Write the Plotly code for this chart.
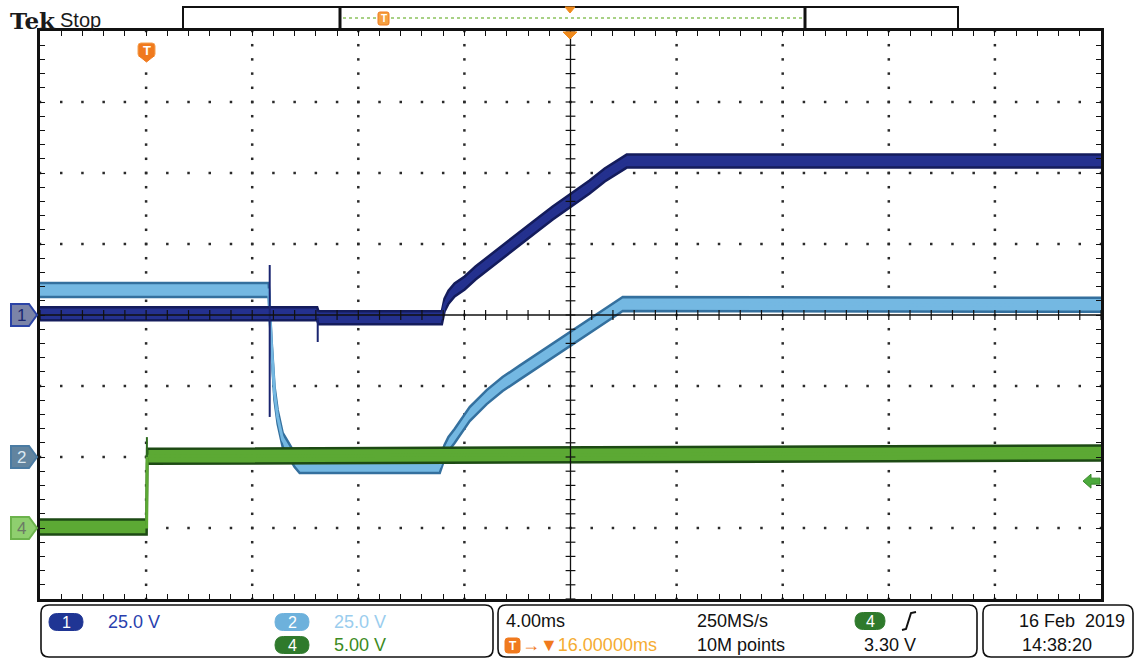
import numpy as np
import plotly.graph_objects as go

# ---------------- acquisition data (time in ms relative to trigger, values in volts) ----
ch1_t = [-4.0, 4.60, 4.70, 6.45, 6.50, 11.15, 11.25, 11.40, 11.63, 12.01, 12.42, 12.84,
         13.33, 14.08, 14.84, 15.33, 16.04, 16.72, 17.29, 17.85, 18.12, 36.0]
ch1_v = [0.4, 0.4, 0.4, 0.4, -1.0, -1.0, 3.5, 6.3, 8.8, 11.3, 14.8, 17.9,
         21.5, 27.1, 32.4, 35.9, 40.5, 45.1, 49.3, 52.8, 54.2, 54.2]
ch1_glitch_t = [4.66, 4.66, None, 6.47, 6.47]
ch1_glitch_v = [17.6, -35.9, None, -1.0, -9.5]

ch2_t = [-4.0, 4.62, 4.73, 4.76, 4.84, 4.96, 5.15, 5.33, 5.60, 5.79, 11.07, 11.25,
         11.40, 11.63, 12.20, 12.84, 13.44, 14.08, 14.72, 15.40, 16.04, 16.84, 17.59,
         17.97, 36.0]
ch2_v = [58.8, 58.8, 38.7, 34.2, 22.5, 14.1, 6.0, 3.2, -1.1, -3.2, -3.2, 1.8,
         4.6, 7.4, 15.1, 21.1, 25.7, 29.7, 33.7, 37.9, 41.9, 46.8, 51.5,
         53.9, 53.6]

ch4_t = [-4.0, 0.02, 0.04, 36.0]
ch4_v = [0.07, 0.07, 5.05, 5.28]
ch4_glitch_t = [0.03, 0.03]
ch4_glitch_v = [5.0, 6.4]

# vertical settings: volts/div and marker position (div)
ch1_scale, ch1_pos = 25.0, 0.0
ch2_scale, ch2_pos = 25.0, -2.0
ch4_scale, ch4_pos = 5.0, -3.0
trig_level = 3.30

# horizontal settings
time_div = 4.0
t_start, t_end = -4.0, 36.0
trig_delay = 16.0

# readout texts
ch_labels = ["25.0 V", "25.0 V", "5.00 V"]
rate_text = "250MS/s"
points_text = "10M points"
date_text = "16 Feb  2019"
clock_text = "14:38:20"

# ---------------- page geometry ----------------
W, H = 1138, 659
ML, MR, MT, MB = 40, 37, 31, 60
PW, PH = W - ML - MR, H - MT - MB
DIV_PX = PH / 8.0
FONT = "Liberation Sans, Arial, sans-serif"


def fx(px):
    return (px - ML) / PW


def fy(py):
    return (H - MB - py) / PH


def ppath(points, close=True):
    s = "M " + " L ".join(f"{fx(x):.5f},{fy(y):.5f}" for x, y in points)
    return s + (" Z" if close else "")


def rrect(x0, y0, x1, y1, r):
    def p(x, y):
        return f"{fx(x):.5f},{fy(y):.5f}"
    return (f"M {p(x0 + r, y0)} L {p(x1 - r, y0)} Q {p(x1, y0)} {p(x1, y0 + r)} "
            f"L {p(x1, y1 - r)} Q {p(x1, y1)} {p(x1 - r, y1)} L {p(x0 + r, y1)} "
            f"Q {p(x0, y1)} {p(x0, y1 - r)} L {p(x0, y0 + r)} Q {p(x0, y0)} {p(x0 + r, y0)} Z")


def to_div(v, scale, pos):
    return [None if a is None else a / scale + pos for a in v]


fig = go.Figure()
shapes, annots = [], []

# ---------------- graticule dots ----------------
major_t = np.arange(t_start, t_end + 1e-9, time_div)
minor_t = np.arange(t_start, t_end + 1e-9, time_div / 5)
minor_y = np.round(np.arange(-4, 4.0001, 0.2), 3)
gx, gy = [], []
for tv in major_t[1:-1]:
    if abs(tv - trig_delay) < 1e-6:
        continue
    gx += [tv] * len(minor_y)
    gy += list(minor_y)
for yv in range(-3, 4):
    if yv == 0:
        continue
    gx += list(minor_t)
    gy += [yv] * len(minor_t)
fig.add_trace(go.Scatter(x=gx, y=gy, mode="markers",
                         marker=dict(symbol="square", size=2.5, color="#2a2a2a"),
                         hoverinfo="skip", showlegend=False))


# ---------------- waveforms: noise band drawn as a filled envelope ----------------
def band(t, v, scale, pos, half_px, edge, core, edge_w=2.5):
    y = np.array(to_div(v, scale, pos))
    h = half_px / DIV_PX
    fig.add_trace(go.Scatter(x=t, y=y - h, mode="lines", line=dict(color=edge, width=edge_w),
                             hoverinfo="skip", showlegend=False))
    fig.add_trace(go.Scatter(x=t, y=y + h, mode="lines", line=dict(color=edge, width=edge_w),
                             fill="tonexty", fillcolor=core,
                             hoverinfo="skip", showlegend=False))
    # centre stroke keeps fast edges visible
    fig.add_trace(go.Scatter(x=t, y=y, mode="lines", line=dict(color=core, width=3),
                             hoverinfo="skip", showlegend=False))


band(ch2_t, ch2_v, ch2_scale, ch2_pos, 7, "#34709e", "#74b8e2")
band(ch1_t, ch1_v, ch1_scale, ch1_pos, 6.5, "#141c5c", "#24318f")
fig.add_trace(go.Scatter(x=ch1_glitch_t, y=to_div(ch1_glitch_v, ch1_scale, ch1_pos),
                         mode="lines", line=dict(color="#1a2570", width=2),
                         hoverinfo="skip", showlegend=False))
band(ch4_t, ch4_v, ch4_scale, ch4_pos, 7.5, "#1d4a14", "#5ca934")
fig.add_trace(go.Scatter(x=ch4_glitch_t, y=to_div(ch4_glitch_v, ch4_scale, ch4_pos),
                         mode="lines", line=dict(color="#2d6a1e", width=2),
                         hoverinfo="skip", showlegend=False))

# ---------------- centre crosshair with ticks ----------------
shapes.append(dict(type="line", xref="x", yref="y", x0=trig_delay, x1=trig_delay, y0=-4, y1=4,
                   line=dict(color="#111", width=1.3), layer="above"))
shapes.append(dict(type="line", xref="x", yref="y", x0=t_start, x1=t_end, y0=0, y1=0,
                   line=dict(color="#111", width=1.3), layer="above"))
fig.add_trace(go.Scatter(x=[trig_delay] * len(minor_y), y=minor_y, mode="markers",
                         marker=dict(symbol="line-ew", size=7, line=dict(width=1.2, color="#111")),
                         hoverinfo="skip", showlegend=False))
fig.add_trace(go.Scatter(x=minor_t, y=[0] * len(minor_t), mode="markers",
                         marker=dict(symbol="line-ns", size=7, line=dict(width=1.2, color="#111")),
                         hoverinfo="skip", showlegend=False))

# ---------------- channel reference markers (left) ----------------
half = 11 / DIV_PX


def ch_marker(pos, label, fill, edge, txt):
    pts = [(11, 0), (29, 0), (37, 1), (29, 2), (11, 2)]
    path = "M " + " L ".join(
        f"{fx(x):.5f},{pos + half - k * half:.4f}" for x, k in pts) + " Z"
    shapes.append(dict(type="path", xref="paper", yref="y", path=path,
                       fillcolor=fill, line=dict(color=edge, width=2)))
    annots.append(dict(xref="paper", yref="y", x=fx(21), y=pos, text=label, showarrow=False,
                       font=dict(family=FONT, size=17, color=txt), xanchor="center",
                       yanchor="middle"))


ch_marker(ch1_pos, "1", "#7b84a8", "#2b43a6", "#1c2870")
ch_marker(ch2_pos, "2", "#62849f", "#4a7ba3", "#dbe8f2")
ch_marker(ch4_pos, "4", "#8fcf6f", "#6cb34c", "#6b7a66")

# trigger level arrow (right edge)
ty = trig_level / ch4_scale + ch4_pos
d = 1 / DIV_PX
arrow_pts = [(1083, 0), (1091, -7), (1091, -3), (1100, -3), (1100, 3), (1091, 3), (1091, 7)]
shapes.append(dict(type="path", xref="paper", yref="y",
                   path="M " + " L ".join(f"{fx(x):.5f},{ty - k * d:.4f}" for x, k in arrow_pts) + " Z",
                   fillcolor="#4caa3c", line=dict(color="#3a8a2c", width=1)))

# trigger position marker on graticule
shapes.append(dict(type="path", xref="paper", yref="paper",
                   path=rrect(138, 43, 155, 57, 3), fillcolor="#f07a1e",
                   line=dict(color="#f5a050", width=1)))
shapes.append(dict(type="path", xref="paper", yref="paper",
                   path=ppath([(139, 56), (154, 56), (146.5, 62)]), fillcolor="#f07a1e",
                   line=dict(color="#f07a1e", width=1)))
annots.append(dict(xref="paper", yref="paper", x=fx(146.5), y=fy(51), text="<b>T</b>",
                   showarrow=False, font=dict(family=FONT, size=13, color="white"),
                   xanchor="center", yanchor="middle"))

# ---------------- header ----------------
annots.append(dict(xref="paper", yref="paper", x=fx(8), y=fy(20), text="<b>Tek</b>",
                   showarrow=False, font=dict(family="DejaVu Serif, serif", size=23, color="#1a1a1a"),
                   xanchor="left", yanchor="middle"))
annots.append(dict(xref="paper", yref="paper", x=fx(58), y=fy(20), text="Stop",
                   showarrow=False, font=dict(family=FONT, size=20, color="#1a1a1a"),
                   xanchor="left", yanchor="middle"))
# record view bar
shapes.append(dict(type="rect", xref="paper", yref="paper", x0=fx(183), x1=fx(958),
                   y0=fy(29), y1=fy(7), line=dict(color="#111", width=2), fillcolor="white"))
shapes.append(dict(type="line", xref="paper", yref="paper", x0=fx(340), x1=fx(340),
                   y0=fy(31), y1=fy(7), line=dict(color="#111", width=3)))
shapes.append(dict(type="line", xref="paper", yref="paper", x0=fx(805), x1=fx(805),
                   y0=fy(31), y1=fy(7), line=dict(color="#111", width=3)))
shapes.append(dict(type="line", xref="paper", yref="paper", x0=fx(343), x1=fx(802),
                   y0=fy(18), y1=fy(18), line=dict(color="#8cc25e", width=1.5, dash="dot")))
shapes.append(dict(type="path", xref="paper", yref="paper",
                   path=rrect(378, 12, 389, 25, 2), fillcolor="#f5a040",
                   line=dict(color="#f07a1e", width=1)))
annots.append(dict(xref="paper", yref="paper", x=fx(383.5), y=fy(18.5), text="<b>T</b>",
                   showarrow=False, font=dict(family=FONT, size=10, color="white"),
                   xanchor="center", yanchor="middle"))
shapes.append(dict(type="path", xref="paper", yref="paper",
                   path=ppath([(565, 7), (575, 7), (570, 13)]), fillcolor="#f08a1c",
                   line=dict(color="#f08a1c", width=1)))
shapes.append(dict(type="path", xref="paper", yref="paper",
                   path=ppath([(563, 32), (577, 32), (570, 39)]), fillcolor="#f08a1c",
                   line=dict(color="#f08a1c", width=1)))

# ---------------- readout boxes ----------------
for x0, x1 in [(41, 493), (498, 977), (983, 1133)]:
    shapes.append(dict(type="path", xref="paper", yref="paper",
                       path=rrect(x0, 605, x1, 657, 8), line=dict(color="#111", width=1.6),
                       fillcolor="white"))


def pill(xc, yc, label, fill, w=34, h=17):
    shapes.append(dict(type="path", xref="paper", yref="paper",
                       path=rrect(xc - w / 2, yc - h / 2, xc + w / 2, yc + h / 2, h / 2),
                       fillcolor=fill, line=dict(color=fill, width=1)))
    annots.append(dict(xref="paper", yref="paper", x=fx(xc), y=fy(yc), text=label,
                       showarrow=False, font=dict(family=FONT, size=16, color="white"),
                       xanchor="center", yanchor="middle"))


def text(px, py, s, color, size=18, anchor="left"):
    annots.append(dict(xref="paper", yref="paper", x=fx(px), y=fy(py), text=s,
                       showarrow=False, font=dict(family=FONT, size=size, color=color),
                       xanchor=anchor, yanchor="middle"))


pill(66, 622, "1", "#1f3594")
text(106, 622, ch_labels[0], "#2a3fae")
pill(292, 622, "2", "#6db1dc")
text(332, 622, ch_labels[1], "#9acdee")
pill(292, 645, "4", "#2f7a2c")
text(332, 645, ch_labels[2], "#3c8a22")

text(504, 621, f"{time_div:.2f}ms", "#111")
text(695, 621, rate_text, "#111")
text(695, 645, points_text, "#111")
shapes.append(dict(type="path", xref="paper", yref="paper",
                   path=rrect(505, 638, 520, 653, 3), fillcolor="#f07a1e",
                   line=dict(color="#f07a1e", width=1)))
annots.append(dict(xref="paper", yref="paper", x=fx(512.5), y=fy(645.5), text="<b>T</b>",
                   showarrow=False, font=dict(family=FONT, size=12, color="white"),
                   xanchor="center", yanchor="middle"))
text(520, 645, f"<span style='color:#f07a1e'>→▼</span>{trig_delay:.5f}ms", "#f5ac32", size=18)
pill(870, 621, "4", "#2f7a2c", w=30)
shapes.append(dict(type="path", xref="paper", yref="paper",
                   path=ppath([(902, 630), (906, 629), (911, 613), (916, 612)], close=False),
                   line=dict(color="#111", width=2)))
text(862, 645, f"{trig_level:.2f} V", "#111")
text(1017, 621, date_text, "#111")
text(1020, 645, clock_text, "#111")

# ---------------- layout ----------------
fig.update_layout(
    width=W, height=H, margin=dict(l=ML, r=MR, t=MT, b=MB),
    paper_bgcolor="white", plot_bgcolor="white",
    shapes=shapes, annotations=annots, showlegend=False,
    xaxis=dict(range=[t_start, t_end], showgrid=False, zeroline=False,
               showline=True, linecolor="#111", linewidth=3, mirror="ticks",
               ticks="inside", tickmode="linear", tick0=t_start, dtick=time_div / 5,
               ticklen=5, tickwidth=1.3, tickcolor="#111", showticklabels=False),
    yaxis=dict(range=[-4, 4], showgrid=False, zeroline=False,
               showline=True, linecolor="#111", linewidth=3, mirror="ticks",
               ticks="inside", tickmode="linear", tick0=-4, dtick=0.2,
               ticklen=5, tickwidth=1.3, tickcolor="#111", showticklabels=False),
)

fig.write_html("out.html")
